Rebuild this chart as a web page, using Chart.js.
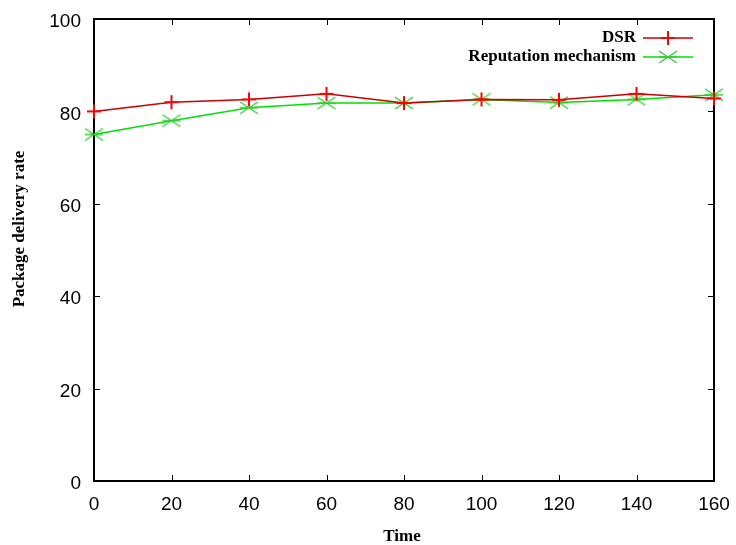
<!DOCTYPE html>
<html>
<head>
<meta charset="utf-8">
<script src="https://cdn.jsdelivr.net/npm/chart.js@4"></script>
<style>
  html, body { margin: 0; padding: 0; background: #fff; }
  #wrap { width: 736px; height: 545px; }
</style>
</head>
<body>
<div id="wrap"><canvas id="chart" width="736" height="545"></canvas></div>
<script>
// values
const times = [0, 20, 40, 60, 80, 100, 120, 140, 160];
const dsr = [80, 82, 82.6, 83.8, 81.8, 82.6, 82.5, 83.8, 82.8];
const reputation = [75, 78, 80.8, 81.8, 81.8, 82.6, 81.9, 82.6, 83.6];
const xTicks = [0, 20, 40, 60, 80, 100, 120, 140, 160];
const yTicks = [0, 20, 40, 60, 80, 100];

// gnuplot style "*" marker without the vertical arm
function starMarker(color) {
    const c = document.createElement('canvas');
    c.width = 20; c.height = 14;
    const g = c.getContext('2d');
    g.strokeStyle = color;
    g.lineWidth = 1.3;
    g.beginPath();
    g.moveTo(1, 1); g.lineTo(19, 13);
    g.moveTo(19, 1); g.lineTo(1, 13);
    g.moveTo(1, 7); g.lineTo(19, 7);
    g.stroke();
    return c;
}
function plusMarker(color) {
    const c = document.createElement('canvas');
    c.width = 16; c.height = 16;
    const g = c.getContext('2d');
    g.strokeStyle = color;
    g.lineWidth = 2;
    g.beginPath();
    g.moveTo(8, 1); g.lineTo(8, 15);
    g.moveTo(1, 8); g.lineTo(15, 8);
    g.stroke();
    return c;
}

const redMark = plusMarker('#ff0000');
const greenMark = starMarker('#33cc33');

const framePlugin = {
    id: 'frame',
    beforeDatasetsDraw(chart) {
        const { ctx, chartArea: a, scales } = chart;
        ctx.save();
        ctx.strokeStyle = '#000';
        ctx.lineWidth = 1;
        ctx.beginPath();
        xTicks.forEach(v => {
            const px = Math.round(scales.x.getPixelForValue(v)) + 0.5;
            ctx.moveTo(px, a.bottom); ctx.lineTo(px, a.bottom - 6);
            ctx.moveTo(px, a.top); ctx.lineTo(px, a.top + 6);
        });
        yTicks.forEach(v => {
            const py = Math.round(scales.y.getPixelForValue(v)) + 0.5;
            ctx.moveTo(a.left, py); ctx.lineTo(a.left + 6, py);
            ctx.moveTo(a.right, py); ctx.lineTo(a.right - 6, py);
        });
        ctx.stroke();
        ctx.lineWidth = 2;
        ctx.strokeRect(a.left, a.top, a.right - a.left, a.bottom - a.top);
        ctx.restore();
    },
    afterDraw(chart) {
        const { ctx, chartArea: a } = chart;
        ctx.save();
        ctx.fillStyle = '#000';
        ctx.font = 'bold 17px "Liberation Serif", "Times New Roman", serif';
        // axis titles
        ctx.textAlign = 'center';
        ctx.textBaseline = 'middle';
        ctx.fillText('Time', (a.left + a.right) / 2 - 2, 537);
        ctx.save();
        ctx.translate(20, 229);
        ctx.rotate(-Math.PI / 2);
        ctx.fillText('Package delivery rate', 0, 0);
        ctx.restore();
        // legend
        const items = [
            { text: 'DSR', line: '#cc0000', mark: redMark, y: 38 },
            { text: 'Reputation mechanism', line: '#00e000', mark: greenMark, y: 57 }
        ];
        items.forEach(it => {
            ctx.textAlign = 'right';
            ctx.fillStyle = '#000';
            ctx.fillText(it.text, 636, it.y);
            ctx.strokeStyle = it.line;
            ctx.lineWidth = 1.5;
            ctx.beginPath();
            ctx.moveTo(643, it.y); ctx.lineTo(693, it.y);
            ctx.stroke();
            ctx.drawImage(it.mark, 668 - it.mark.width / 2, it.y - it.mark.height / 2);
        });
        ctx.restore();
    }
};

const tickFont = { family: '"Liberation Sans", Arial, sans-serif', size: 19 };

new Chart(document.getElementById('chart'), {
    type: 'line',
    data: {
        datasets: [
            {
                label: 'DSR',
                data: times.map((t, i) => ({ x: t, y: dsr[i] })),
                borderColor: '#cc0000',
                borderWidth: 1.5,
                pointStyle: redMark,
                pointRadius: 7,
                tension: 0,
                clip: false
            },
            {
                label: 'Reputation mechanism',
                data: times.map((t, i) => ({ x: t, y: reputation[i] })),
                borderColor: '#00e000',
                borderWidth: 1.5,
                pointStyle: greenMark,
                pointRadius: 9,
                tension: 0,
                clip: false
            }
        ]
    },
    options: {
        responsive: false,
        animation: false,
        layout: { padding: { left: 0, top: 19, right: 22, bottom: 0 } },
        plugins: {
            legend: { display: false },
            tooltip: { enabled: false }
        },
        scales: {
            x: {
                type: 'linear',
                min: 0,
                max: 160,
                afterBuildTicks: s => { s.ticks = xTicks.map(v => ({ value: v })); },
                ticks: { font: tickFont, color: '#000', padding: 12, maxRotation: 0 },
                grid: { display: false, drawTicks: false },
                border: { display: false },
                afterFit: s => { s.height = 64; s.paddingLeft = 0; s.paddingRight = 0; }
            },
            y: {
                min: 0,
                max: 100,
                afterBuildTicks: s => { s.ticks = yTicks.map(v => ({ value: v })); },
                ticks: { font: tickFont, color: '#000', padding: 13, labelOffset: 3 },
                grid: { display: false, drawTicks: false },
                border: { display: false },
                afterFit: s => { s.width = 94; s.paddingTop = 0; s.paddingBottom = 0; }
            }
        }
    },
    plugins: [framePlugin]
});
</script>
</body>
</html>
